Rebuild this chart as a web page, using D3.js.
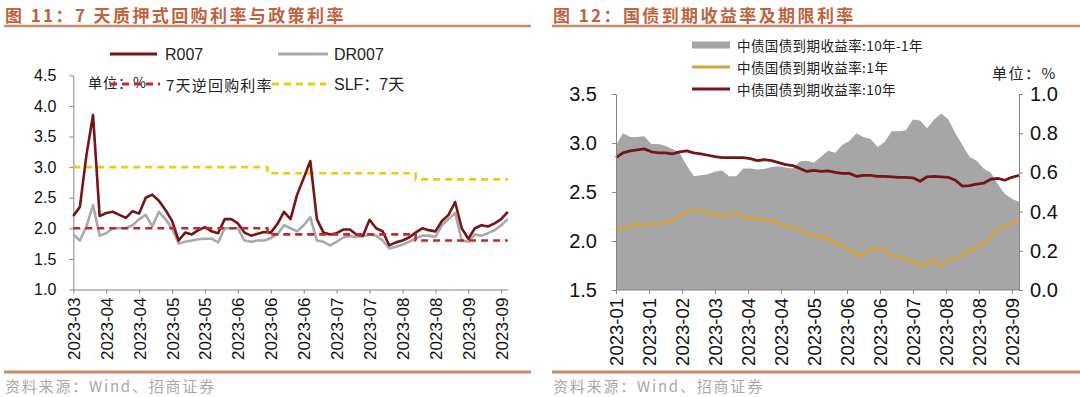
<!DOCTYPE html>
<html lang='zh'>
<head>
<meta charset='UTF-8'>
<title>Document</title>
<style>
  body { margin: 0; background: #fff; }
  svg { display: block; }
</style>
</head>
<body>
<svg></svg>
<script src='https://d3js.org/d3.v7.min.js'></script>
<script>
// ---- left chart data (sampled every 2 trading days) ----
const leftDays = d3.range(0, 133, 2)
const r007 = [2.2, 2.35, 3.2, 3.85, 2.2, 2.25, 2.27, 2.22, 2.17, 2.28,
  2.24, 2.5, 2.55, 2.45, 2.3, 2.12, 1.8, 1.93, 1.9, 1.97,
  2.02, 1.95, 1.92, 2.15, 2.15, 2.08, 1.93, 1.88, 1.91, 1.94,
  1.93, 2.07, 2.27, 2.15, 2.55, 2.82, 3.1, 2.15, 1.93, 1.9,
  1.92, 1.98, 1.98, 1.9, 1.88, 2.14, 2.0, 1.95, 1.72, 1.77,
  1.8, 1.85, 1.93, 2.0, 1.97, 1.95, 2.12, 2.22, 2.43, 2.0,
  1.83, 2.0, 2.05, 2.03, 2.08, 2.15, 2.27]
const dr007 = [1.9, 1.8, 2.03, 2.38, 1.88, 1.92, 2.0, 2.0, 2.0, 2.05,
  2.15, 2.22, 2.03, 2.27, 2.15, 2.0, 1.75, 1.78, 1.8, 1.82,
  1.83, 1.83, 1.77, 2.0, 2.0, 2.0, 1.8, 1.78, 1.8, 1.8,
  1.84, 1.9, 2.05, 2.0, 1.95, 2.05, 2.18, 1.8, 1.78, 1.72,
  1.78, 1.85, 1.87, 1.86, 1.87, 1.9, 1.88, 1.8, 1.67, 1.7,
  1.73, 1.78, 1.83, 1.88, 1.88, 1.86, 2.05, 2.15, 2.25, 1.8,
  1.78, 1.9, 1.88, 1.92, 1.97, 2.05, 2.15]
// policy rate steps (day the rate takes effect)
const policyDays = [0, 59, 104, 132]
const reverseRepo = [2.0, 1.9, 1.8]
const slf7d = [3.0, 2.9, 2.8]
const leftTickDays = d3.range(0, 131, 10)
const leftTickLabels = ['2023-03', '2023-04', '2023-04', '2023-05', '2023-05', '2023-06', '2023-06',
  '2023-06', '2023-07', '2023-07', '2023-08', '2023-08', '2023-09', '2023-09']
const leftYTicks = [1.0, 1.5, 2.0, 2.5, 3.0, 3.5, 4.0, 4.5]

// ---- right chart data (sampled every 3 trading days) ----
const rightDays = d3.range(0, 172, 3)
const yield10y = [2.85, 2.9, 2.92, 2.93, 2.94, 2.91, 2.9, 2.9, 2.89, 2.91,
  2.92, 2.9, 2.89, 2.875, 2.86, 2.85, 2.85, 2.85, 2.85, 2.84,
  2.82, 2.83, 2.82, 2.8, 2.78, 2.77, 2.74, 2.71, 2.72, 2.71,
  2.715, 2.7, 2.69, 2.69, 2.66, 2.67, 2.67, 2.66, 2.66, 2.655,
  2.65, 2.65, 2.645, 2.61, 2.655, 2.66, 2.655, 2.65, 2.62, 2.56,
  2.565, 2.58, 2.59, 2.63, 2.64, 2.62, 2.65, 2.67]
const yield1y = [2.11, 2.13, 2.16, 2.17, 2.16, 2.17, 2.175, 2.19, 2.21, 2.25,
  2.3, 2.32, 2.31, 2.28, 2.275, 2.26, 2.27, 2.28, 2.24, 2.235,
  2.225, 2.22, 2.205, 2.18, 2.16, 2.14, 2.12, 2.07, 2.06, 2.04,
  2.02, 1.99, 1.95, 1.91, 1.87, 1.86, 1.91, 1.93, 1.91, 1.85,
  1.84, 1.82, 1.79, 1.75, 1.77, 1.81, 1.75, 1.81, 1.82, 1.86,
  1.9, 1.94, 1.97, 2.05, 2.12, 2.15, 2.18, 2.22]
const spread = [0.74, 0.8, 0.78, 0.78, 0.785, 0.745, 0.745, 0.735, 0.72, 0.7,
  0.635, 0.58, 0.585, 0.59, 0.605, 0.61, 0.58, 0.58, 0.62, 0.62,
  0.615, 0.617, 0.627, 0.632, 0.625, 0.62, 0.655, 0.66, 0.65, 0.68,
  0.71, 0.7, 0.74, 0.76, 0.8, 0.78, 0.77, 0.73, 0.755, 0.81,
  0.81, 0.815, 0.87, 0.865, 0.825, 0.87, 0.9, 0.87, 0.8, 0.74,
  0.68, 0.66, 0.62, 0.6, 0.54, 0.49, 0.465, 0.45]
const rightTickDays = d3.range(0, 169, 14)
const rightTickLabels = ['2023-01', '2023-01', '2023-02', '2023-03', '2023-04', '2023-04', '2023-05',
  '2023-06', '2023-06', '2023-07', '2023-08', '2023-08', '2023-09']
const rightYTicksL = [1.5, 2.0, 2.5, 3.0, 3.5]
const rightYTicksR = [0.0, 0.2, 0.4, 0.6, 0.8, 1.0]

const width = 1080
const height = 397
const latin = "'Liberation Sans', Arial, 'Noto Sans CJK SC', sans-serif"
const cjk = "'Noto Sans CJK SC', 'Liberation Sans', sans-serif"
const titleColor = '#c0623e'
const ruleColor = '#c98c69'
const axisColor = '#868686'
const darkRed = '#761417'

const svg = d3.select('svg')
  .attr('width', width)
  .attr('height', height)
  .style('background', '#fff')

// headers, rules, source notes
function frame(x0, x1, title) {
  svg.append('text')
    .attr('x', x0 + 1).attr('y', 14)
    .attr('dominant-baseline', 'central')
    .attr('font-family', cjk).attr('font-weight', 'bold')
    .attr('font-size', 17).attr('letter-spacing', 2.4)
    .attr('fill', titleColor)
    .text(title)
  svg.append('line')
    .attr('x1', x0).attr('x2', x1).attr('y1', 26).attr('y2', 26)
    .attr('stroke', ruleColor).attr('stroke-width', 2.5)
  svg.append('line')
    .attr('x1', x0).attr('x2', x1).attr('y1', 372).attr('y2', 372)
    .attr('stroke', ruleColor).attr('stroke-width', 3)
  svg.append('text')
    .attr('x', x0 + 1).attr('y', 385)
    .attr('dominant-baseline', 'central')
    .attr('font-family', cjk).attr('font-size', 15).attr('letter-spacing', 1.8)
    .attr('fill', '#a8a8a8')
    .text('资料来源：Wind、招商证券')
}
frame(4, 531, '图 11：7 天质押式回购利率与政策利率')
frame(552, 1080, '图 12：国债到期收益率及期限利率')

function styleAxis(g) {
  g.select('.domain').attr('stroke', axisColor)
  g.selectAll('.tick line').attr('stroke', axisColor)
  g.selectAll('.tick text').attr('fill', '#111')
}

function rotateLabels(g, size) {
  g.selectAll('.tick text')
    .attr('font-family', latin).attr('font-size', size)
    .attr('transform', 'rotate(-90)')
    .attr('text-anchor', 'end')
    .attr('x', -8).attr('y', 0).attr('dy', '0.35em')
}

// ================= left chart =================
const xL = d3.scaleLinear().domain([0, 132]).range([73.3, 507.8])
const yL = d3.scaleLinear().domain([1, 4.5]).range([289.5, 75.3])

svg.append('g')
  .attr('transform', 'translate(73.3,0)')
  .call(d3.axisLeft(yL).tickValues(leftYTicks).tickFormat(d3.format('.1f'))
    .tickSize(4).tickSizeOuter(0).tickPadding(13))
  .call(styleAxis)
  .call(g => g.selectAll('.tick text').attr('font-family', latin).attr('font-size', 16))

svg.append('g')
  .attr('transform', 'translate(0,289.5)')
  .call(d3.axisBottom(xL).tickValues(leftTickDays).tickFormat((d, i) => leftTickLabels[i])
    .tickSize(4).tickSizeOuter(0))
  .call(styleAxis)
  .call(g => rotateLabels(g, 17))

function steps(rates) {
  const pts = []
  rates.forEach((v, i) => {
    pts.push([policyDays[i], v])
    pts.push([policyDays[i + 1], v])
  })
  return pts
}

const stepLine = d3.line().x(d => xL(d[0])).y(d => yL(d[1]))
const seriesLineL = d3.line().x((d, i) => xL(leftDays[i])).y(d => yL(d))

svg.append('path')
  .attr('d', stepLine(steps(slf7d)))
  .attr('fill', 'none').attr('stroke', '#f2c617').attr('stroke-width', 2.6)
  .attr('stroke-dasharray', '7,5')

svg.append('path')
  .attr('d', seriesLineL(dr007))
  .attr('fill', 'none').attr('stroke', '#a9a9a9').attr('stroke-width', 2.6)
  .attr('stroke-linejoin', 'round')

svg.append('path')
  .attr('d', seriesLineL(r007))
  .attr('fill', 'none').attr('stroke', darkRed).attr('stroke-width', 2.6)
  .attr('stroke-linejoin', 'round')

svg.append('path')
  .attr('d', stepLine(steps(reverseRepo)))
  .attr('fill', 'none').attr('stroke', '#c3282e').attr('stroke-width', 2.6)
  .attr('stroke-dasharray', '7,5')

// left legend
const legL = svg.append('g').attr('font-size', 16).attr('fill', '#222')
function legendLine(g, x1, x2, y, color, dash) {
  g.append('line')
    .attr('x1', x1).attr('x2', x2).attr('y1', y).attr('y2', y)
    .attr('stroke', color).attr('stroke-width', 3)
    .attr('stroke-dasharray', dash || null)
}
function legendText(g, x, y, txt, family, size, spacing) {
  g.append('text')
    .attr('x', x).attr('y', y)
    .attr('dominant-baseline', 'central')
    .attr('font-family', family).attr('font-size', size)
    .attr('letter-spacing', spacing || 0)
    .attr('fill', '#222')
    .text(txt)
}
legendText(legL, 88, 82, '单位：%', cjk, 14, 1)
legendLine(legL, 110, 157, 54, darkRed)
legendText(legL, 165, 54, 'R007', latin, 16)
legendLine(legL, 278, 328, 54, '#a9a9a9')
legendText(legL, 334, 54, 'DR007', latin, 16)
legendLine(legL, 110, 160, 84, '#c3282e', '7,5')
legendText(legL, 166, 84, '7天逆回购利率', cjk, 15, 1.2)
legendLine(legL, 272, 326, 84, '#f2c617', '7,5')
legendText(legL, 334, 84, 'SLF：7天', latin, 16)

// ================= right chart =================
const xR = d3.scaleLinear().domain([0, 171]).range([616, 1019])
const yRL = d3.scaleLinear().domain([1.5, 3.5]).range([290, 94])
const yRR = d3.scaleLinear().domain([0, 1]).range([290, 94])

svg.append('path')
  .attr('d', d3.area().x((d, i) => xR(rightDays[i])).y0(yRR(0)).y1(d => yRR(d))(spread))
  .attr('fill', '#a6a6a6')

svg.append('path')
  .attr('d', d3.line().x((d, i) => xR(rightDays[i])).y(d => yRL(d))(yield1y))
  .attr('fill', 'none').attr('stroke', '#d4a23c').attr('stroke-width', 2.8)
  .attr('stroke-linejoin', 'round')

svg.append('path')
  .attr('d', d3.line().x((d, i) => xR(rightDays[i])).y(d => yRL(d))(yield10y))
  .attr('fill', 'none').attr('stroke', darkRed).attr('stroke-width', 2.8)
  .attr('stroke-linejoin', 'round')

svg.append('g')
  .attr('transform', 'translate(616,0)')
  .call(d3.axisLeft(yRL).tickValues(rightYTicksL).tickFormat(d3.format('.1f'))
    .tickSize(4).tickSizeOuter(0).tickPadding(15))
  .call(styleAxis)
  .call(g => g.selectAll('.tick text').attr('font-family', latin).attr('font-size', 20))

svg.append('g')
  .attr('transform', 'translate(1019,0)')
  .call(d3.axisRight(yRR).tickValues(rightYTicksR).tickFormat(d3.format('.1f'))
    .tickSize(4).tickSizeOuter(0).tickPadding(7))
  .call(styleAxis)
  .call(g => g.selectAll('.tick text').attr('font-family', latin).attr('font-size', 20))

svg.append('g')
  .attr('transform', 'translate(0,290)')
  .call(d3.axisBottom(xR).tickValues(rightTickDays).tickFormat((d, i) => rightTickLabels[i])
    .tickSize(4).tickSizeOuter(0))
  .call(styleAxis)
  .call(g => g.select('.domain').attr('d', 'M616,0H1019'))
  .call(g => rotateLabels(g, 18.5))

// right legend
const legR = svg.append('g')
legR.append('rect')
  .attr('x', 692).attr('y', 41.5).attr('width', 38).attr('height', 7)
  .attr('fill', '#a6a6a6')
legendText(legR, 737, 45, '中债国债到期收益率:10年-1年', cjk, 13.5, 0.4)
legendLine(legR, 692, 730, 67, '#d4a23c')
legendText(legR, 737, 67, '中债国债到期收益率:1年', cjk, 13.5, 0.4)
legendLine(legR, 692, 730, 89, darkRed)
legendText(legR, 737, 89, '中债国债到期收益率:10年', cjk, 13.5, 0.4)
legendText(legR, 992, 72, '单位：%', cjk, 15, 1.5)
</script>
</body>
</html>
